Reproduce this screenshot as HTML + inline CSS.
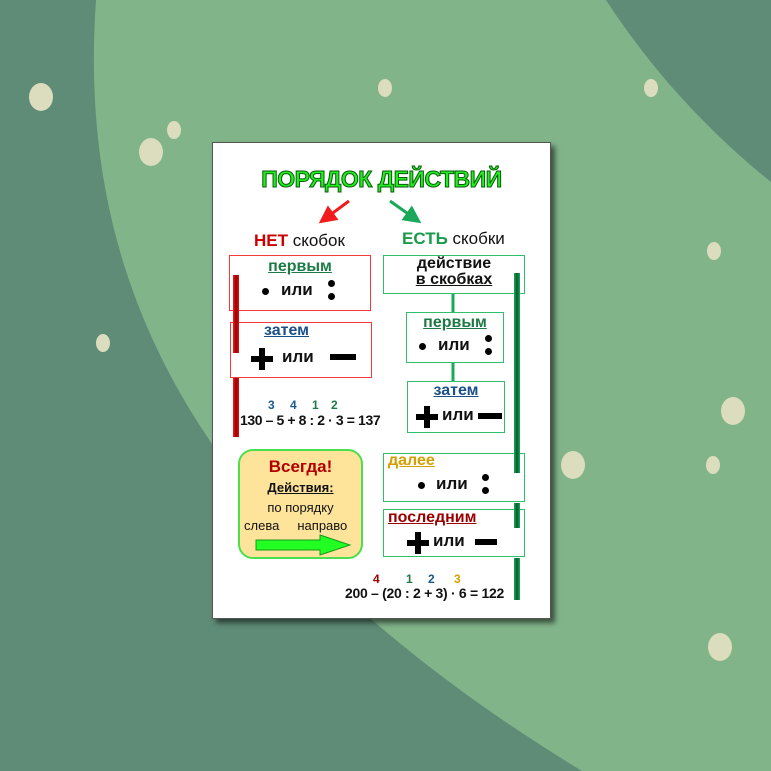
<!DOCTYPE html>
<html><head><meta charset="utf-8"><style>
*{margin:0;padding:0;box-sizing:border-box}
body{width:771px;height:771px;overflow:hidden;background:#5e8c77;position:relative;font-family:"Liberation Sans","DejaVu Sans",sans-serif}
.a{position:absolute}
.t{position:absolute;white-space:nowrap;font-weight:bold;color:#111}
.u{text-decoration:underline}
.box{position:absolute;background:#fff}
.r{border:1.5px solid #f23a3a}
.g{border:1.5px solid #2fbf6b}
.dot{position:absolute;width:7px;height:7px;border-radius:50%;background:#000}
.plus{position:absolute}
.plus:before{content:"";position:absolute;left:0;top:8px;width:22px;height:6px;background:#000}
.plus:after{content:"";position:absolute;left:8px;top:0;width:6px;height:22px;background:#000}
.minus{position:absolute;height:6px;background:#000}
</style></head><body>
<svg class="a" style="left:0;top:0" width="771" height="771">
<path d="M96,0 C78,260 170,520 582,771 L771,771 L771,182 C700,125 645,60 606,0 Z" fill="#82b48a"/>
<g fill="#dcdcbf">
<ellipse cx="41" cy="97" rx="12" ry="14"/><ellipse cx="174" cy="130" rx="7" ry="9"/><ellipse cx="151" cy="152" rx="12" ry="14"/>
<ellipse cx="385" cy="88" rx="7" ry="9"/><ellipse cx="651" cy="88" rx="7" ry="9"/><ellipse cx="714" cy="251" rx="7" ry="9"/>
<ellipse cx="103" cy="343" rx="7" ry="9"/><ellipse cx="733" cy="411" rx="12" ry="14"/><ellipse cx="573" cy="465" rx="12" ry="14"/>
<ellipse cx="713" cy="465" rx="7" ry="9"/><ellipse cx="720" cy="647" rx="12" ry="14"/>
</g>
</svg>
<div class="a" style="left:212px;top:142px;width:339px;height:477px;background:#fff;border:1px solid #555;box-shadow:4px 4px 5px rgba(0,0,0,.55)"></div>
<div class="t" style="left:212px;width:339px;text-align:center;top:166px;font-size:23px;color:#22ee22;-webkit-text-stroke:1px #0a5a0a;letter-spacing:-0.5px">ПОРЯДОК ДЕЙСТВИЙ</div>
<svg class="a" style="left:212px;top:142px" width="339" height="477">
<defs><marker id="mr" markerWidth="6" markerHeight="6" refX="3" refY="3" orient="auto"><path d="M0,0 L6,3 L0,6z" fill="#f01c1c"/></marker>
<marker id="mg" markerWidth="6" markerHeight="6" refX="3" refY="3" orient="auto"><path d="M0,0 L6,3 L0,6z" fill="#1aa85a"/></marker></defs>
<line x1="137" y1="59" x2="114" y2="76" stroke="#f01c1c" stroke-width="3" marker-end="url(#mr)"/>
<line x1="178" y1="59" x2="202" y2="76" stroke="#1aa85a" stroke-width="3" marker-end="url(#mg)"/>
<line x1="241" y1="150" x2="241" y2="240" stroke="#1aa85a" stroke-width="3"/>
</svg>
<div class="t" style="left:254px;top:231px;font-size:17px;font-weight:normal"><b style="color:#c00">НЕТ</b> скобок</div>
<div class="t" style="left:402px;top:229px;font-size:17px;font-weight:normal"><b style="color:#1a9a4a">ЕСТЬ</b> скобки</div>
<div class="box r" style="left:229px;top:255px;width:142px;height:56px"></div>
<div class="t u" style="left:229px;width:142px;text-align:center;top:258px;font-size:16px;color:#1d7a45">первым</div>
<div class="dot" style="left:262px;top:288px"></div>
<div class="t" style="left:281px;top:280px;font-size:17px">или</div>
<div class="dot" style="left:328px;top:280px"></div><div class="dot" style="left:328px;top:293px"></div>
<div class="box r" style="left:230px;top:322px;width:142px;height:56px"></div>
<div class="t u" style="left:264px;top:322px;font-size:16px;color:#1a4f8a">затем</div>
<div class="plus" style="left:251px;top:348px;width:22px;height:22px"></div>
<div class="t" style="left:282px;top:347px;font-size:17px">или</div>
<div class="minus" style="left:330px;top:354px;width:26px"></div>
<div class="a" style="left:233px;top:275px;width:6px;height:78px;background:linear-gradient(90deg,#f02020,#900,#e01010)"></div>
<div class="a" style="left:233px;top:378px;width:6px;height:59px;background:linear-gradient(90deg,#f02020,#900,#e01010)"></div>
<div class="t" style="left:240px;top:412px;font-size:14px;letter-spacing:-0.4px">130 – 5 + 8 : 2 · 3 = 137</div>
<div class="t" style="left:268px;top:398px;font-size:12px;color:#1a5a8a">3</div>
<div class="t" style="left:290px;top:398px;font-size:12px;color:#1a5a8a">4</div>
<div class="t" style="left:312px;top:398px;font-size:12px;color:#1d7a45">1</div>
<div class="t" style="left:331px;top:398px;font-size:12px;color:#1d7a45">2</div>
<div class="a" style="left:238px;top:449px;width:125px;height:110px;background:#fee39a;border:2px solid #4be04b;border-radius:15px"></div>
<div class="t" style="left:238px;width:125px;text-align:center;top:457px;font-size:17px;color:#b00000">Всегда!</div>
<div class="t u" style="left:238px;width:125px;text-align:center;top:480px;font-size:13px">Действия:</div>
<div class="t" style="left:238px;width:125px;text-align:center;top:500px;font-size:13px;font-weight:normal">по порядку</div>
<div class="t" style="left:244px;top:518px;font-size:13px;font-weight:normal">слева&nbsp;&nbsp;&nbsp;&nbsp;&nbsp;направо</div>
<svg class="a" style="left:254px;top:533px" width="100" height="24"><path d="M2,7 H66 V2 L96,12 L66,22 V17 H2 Z" fill="#22ff22" stroke="#1a9a1a" stroke-width="1"/></svg>
<div class="box g" style="left:383px;top:255px;width:142px;height:39px"></div>
<div class="t" style="left:383px;width:142px;text-align:center;top:256px;font-size:16px;line-height:16px">действие<br><span class="u">в скобках</span></div>
<div class="box g" style="left:406px;top:312px;width:98px;height:51px"></div>
<div class="t u" style="left:406px;width:98px;text-align:center;top:314px;font-size:16px;color:#1d7a45">первым</div>
<div class="dot" style="left:419px;top:343px"></div>
<div class="t" style="left:438px;top:335px;font-size:17px">или</div>
<div class="dot" style="left:485px;top:335px"></div><div class="dot" style="left:485px;top:348px"></div>
<div class="box g" style="left:407px;top:381px;width:98px;height:52px"></div>
<div class="t u" style="left:407px;width:98px;text-align:center;top:382px;font-size:16px;color:#1a4f8a">затем</div>
<div class="plus" style="left:416px;top:406px;width:22px;height:22px"></div>
<div class="t" style="left:442px;top:405px;font-size:17px">или</div>
<div class="minus" style="left:478px;top:413px;width:24px"></div>
<div class="box g" style="left:383px;top:453px;width:142px;height:49px"></div>
<div class="t u" style="left:388px;top:452px;font-size:16px;color:#d4a000">далее</div>
<div class="dot" style="left:418px;top:482px"></div>
<div class="t" style="left:436px;top:474px;font-size:17px">или</div>
<div class="dot" style="left:482px;top:474px"></div><div class="dot" style="left:482px;top:487px"></div>
<div class="box g" style="left:383px;top:509px;width:142px;height:48px"></div>
<div class="t u" style="left:388px;top:509px;font-size:16px;color:#9a0000">последним</div>
<div class="plus" style="left:407px;top:532px;width:22px;height:22px"></div>
<div class="t" style="left:433px;top:531px;font-size:17px">или</div>
<div class="minus" style="left:475px;top:539px;width:22px"></div>
<div class="a" style="left:514px;top:273px;width:6px;height:200px;background:linear-gradient(90deg,#1aa85a,#0a5a2a,#1aa85a)"></div>
<div class="a" style="left:514px;top:503px;width:6px;height:25px;background:linear-gradient(90deg,#1aa85a,#0a5a2a,#1aa85a)"></div>
<div class="a" style="left:514px;top:558px;width:6px;height:42px;background:linear-gradient(90deg,#1aa85a,#0a5a2a,#1aa85a)"></div>
<div class="t" style="left:345px;top:585px;font-size:14px;letter-spacing:-0.3px">200 – (20 : 2 + 3) · 6 = 122</div>
<div class="t" style="left:373px;top:572px;font-size:12px;color:#9a0000">4</div>
<div class="t" style="left:406px;top:572px;font-size:12px;color:#1d7a45">1</div>
<div class="t" style="left:428px;top:572px;font-size:12px;color:#1a5a8a">2</div>
<div class="t" style="left:454px;top:572px;font-size:12px;color:#d4a000">3</div>
</body></html>
